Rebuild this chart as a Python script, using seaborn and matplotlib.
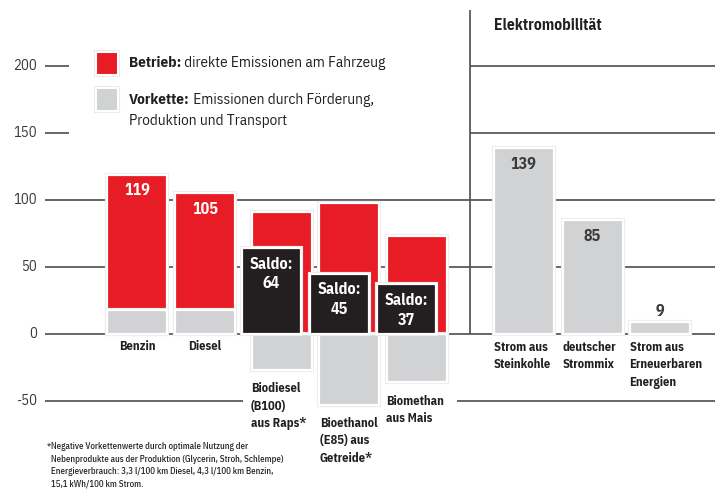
import numpy as np
import pandas as pd
import matplotlib
matplotlib.use("Agg")
import matplotlib.pyplot as plt
from matplotlib.patches import Rectangle
import matplotlib.patheffects as pe
import seaborn as sns

# CO2-Emissionen je Antrieb (g/km)
fuels = ["Benzin", "Diesel", "Biodiesel\n(B100)\naus Raps*",
         "Bioethanol\n(E85) aus\nGetreide*", "Biomethan\naus Mais"]
betrieb = [101, 87, 91, 98, 73]      # direkte Emissionen am Fahrzeug
vorkette = [18, 18, -27, -53, -36]   # Förderung, Produktion, Transport
strom_labels = ["Strom aus\nSteinkohle", "deutscher\nStrommix",
                "Strom aus\nErneuerbaren\nEnergien"]
strom = [139, 85, 9]
y_ticks = [-50, 0, 50, 100, 150, 200]

RED = "#e81c24"
GREY = "#d1d2d4"
BLACK = "#231f20"
LINE = "#4d4d4f"
TEXT = "#231f20"

sns.set_theme(style="white")
plt.rcParams["font.family"] = ["IBM Plex Sans Condensed", "DejaVu Sans"]

W, H = 715, 491
fig = plt.figure(figsize=(W / 100, H / 100), dpi=100)
ax = fig.add_axes([0, 0, 1, 1])

# pixel layout: x axis in pixels, y axis in g/km
ZERO_PX, SCALE = 334, 1.34
ax.set_xlim(0, W)
ax.set_ylim(-(H - ZERO_PX) / SCALE, ZERO_PX / SCALE)
ax.axis("off")


def fig_xy(px, py):
    return px / W, 1 - py / H


fuel_x = [137, 205, 281.5, 349, 416.5]
strom_x = [523.5, 592.5, 659.5]
saldo_shift = -10
bar_px = 60
halo = [pe.Stroke(linewidth=3.0, foreground="#ebebeb"), pe.Normal()]


def bars(xs, heights, color, width_px, z):
    df = pd.DataFrame({"pos": xs, "val": heights})
    step = np.min(np.diff(np.sort(xs))) if len(xs) > 1 else 1.0
    sns.barplot(data=df, x="pos", y="val", native_scale=True, orient="x",
                width=width_px / step, color=color, saturation=1,
                errorbar=None, edgecolor="white", linewidth=1.6,
                zorder=z, path_effects=halo, ax=ax)


# grid segments
for v in y_ticks:
    if v in (150, 200):
        segs = [(45, 69), (470, W)]
    elif v == -50:
        segs = [(45, 243), (457, W)]
    else:
        segs = [(45, W)]
    for a, b in segs:
        ax.hlines(v, a, b, color=LINE, lw=1.2, zorder=1)
    ax.text(37, v, str(v), ha="right", va="center", fontsize=10.5,
            color="#3a3a3a")

ax.vlines(470, 0, (ZERO_PX - 10) / SCALE, color=LINE, lw=1.2, zorder=1)

red_h = [b + max(v, 0) for b, v in zip(betrieb, vorkette)]
saldo = [b + v for b, v in zip(betrieb, vorkette)]
bars(fuel_x, red_h, RED, bar_px, 2)
bars(fuel_x, vorkette, GREY, bar_px, 3)
bars(strom_x, strom, GREY, bar_px, 3)

neg = [i for i, v in enumerate(vorkette) if v < 0]
saldo_x = [fuel_x[i] + saldo_shift for i in neg]
saldo_v = [saldo[i] for i in neg]
bars(saldo_x, saldo_v, BLACK, 59, 4)

# value labels
for i, v in enumerate(vorkette):
    if v >= 0:
        ax.annotate(str(saldo[i]), (fuel_x[i], red_h[i]), xytext=(0, -11.5),
                    textcoords="offset points", ha="center", va="center",
                    fontsize=11.5, fontweight="bold", color="white", zorder=6)
for x, v in zip(saldo_x, saldo_v):
    ax.annotate(f"Saldo:\n{v}", (x, v), xytext=(0, -6),
                textcoords="offset points", ha="center", va="top",
                fontsize=11.5, fontweight="bold", color="white",
                linespacing=1.4, zorder=6)
for x, v in zip(strom_x, strom):
    if v > 30:
        ax.annotate(str(v), (x, v), xytext=(0, -12), textcoords="offset points",
                    ha="center", va="center", fontsize=11.5,
                    fontweight="bold", color="#3a3a3a", zorder=6)
    else:
        ax.annotate(str(v), (x, v), xytext=(0, 7.5), textcoords="offset points",
                    ha="center", va="center", fontsize=11.5,
                    fontweight="bold", color="#3a3a3a", zorder=6)

# category labels
lab_kw = dict(fontsize=9, fontweight="bold", color=TEXT, linespacing=1.45)
for i in (0, 1):
    fig.text(*fig_xy(fuel_x[i], 347), fuels[i], ha="center", va="center",
             **lab_kw)
fig.text(*fig_xy(251, 382), fuels[2], ha="left", va="top", **lab_kw)
fig.text(*fig_xy(320, 417), fuels[3], ha="left", va="top", **lab_kw)
fig.text(*fig_xy(386, 395), fuels[4], ha="left", va="top", **lab_kw)
for x, lab in zip(strom_x, strom_labels):
    fig.text(*fig_xy(x - bar_px / 2, 341), lab, ha="left", va="top", **lab_kw)

fig.text(*fig_xy(494, 26), "Elektromobilität", ha="left", va="center",
         fontsize=11.2, fontweight="bold", color=TEXT)

# legend
renderer = fig.canvas.get_renderer()
for py, col in ((63.5, RED), (99.5, GREY)):
    x0, y0 = fig_xy(95.5, py + 11)
    fig.add_artist(Rectangle((x0, y0), 22 / W, 22 / H, transform=fig.transFigure,
                             facecolor=col, edgecolor="white", lw=1.5,
                             path_effects=halo))


def rich(px, py, bold, rest):
    t = fig.text(*fig_xy(px, py), bold, ha="left", va="center", fontsize=11,
                 fontweight="bold", color=TEXT)
    w = t.get_window_extent(renderer).width
    fig.text(*fig_xy(px + w, py), rest, ha="left", va="center", fontsize=11,
             color=TEXT)


rich(129, 63, "Betrieb:", " direkte Emissionen am Fahrzeug")
rich(129, 100, "Vorkette:", " Emissionen durch Förderung,")
fig.text(*fig_xy(129, 121), "Produktion und Transport", ha="left",
         va="center", fontsize=11, color=TEXT)

# footnote
note = ("Negative Vorkettenwerte durch optimale Nutzung der\n"
        "Nebenprodukte aus der Produktion (Glycerin, Stroh, Schlempe)\n"
        "Energieverbrauch: 3,3 l/100 km Diesel, 4,3 l/100 km Benzin,\n"
        "15,1 kWh/100 km Strom.")
fig.text(*fig_xy(47, 443), "*", ha="left", va="top", fontsize=6.4,
         fontweight="medium", color=TEXT)
fig.text(*fig_xy(51, 442), note, ha="left", va="top", fontsize=6.4,
         fontweight="medium", color=TEXT, linespacing=1.5)

fig.savefig("out.png", dpi=100)
